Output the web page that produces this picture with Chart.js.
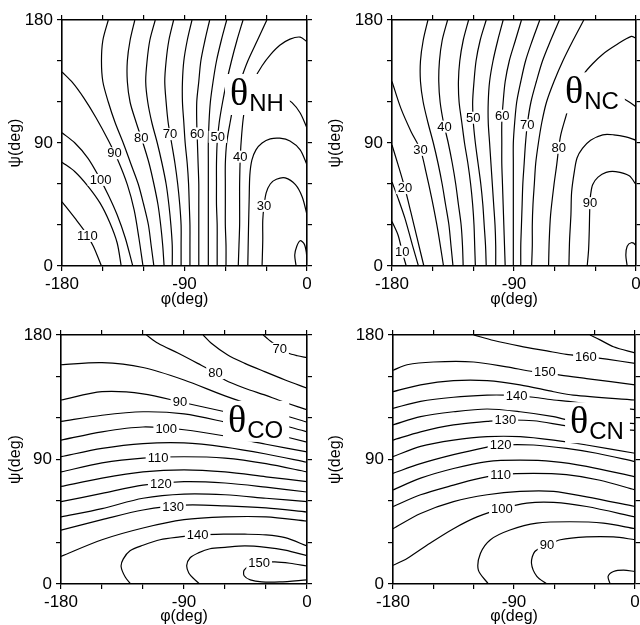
<!DOCTYPE html>
<html>
<head>
<meta charset="utf-8">
<script src="https://cdn.jsdelivr.net/npm/chart.js@4.4.1/dist/chart.umd.min.js"></script>
<style>
  html, body { margin: 0; padding: 0; background: #fff; overflow: hidden; }
  body { width: 640px; height: 625px; position: relative; }
  canvas { position: absolute; }
</style>
</head>
<body>
<canvas id="nh" width="320" height="312" style="left:0;top:0"></canvas>
<canvas id="nc" width="340" height="312" style="left:320px;top:0"></canvas>
<canvas id="co" width="320" height="318" style="left:0;top:312px"></canvas>
<canvas id="cn" width="340" height="318" style="left:320px;top:312px"></canvas>
<script>
// axis ticks (phi across, psi up), only some of them get a number
const phiTicks = [-180, -150, -120, -90, -60, -30, 0];
const psiTicks = [0, 30, 60, 90, 120, 150, 180];
const labelledTicks = [-180, -90, 0, 90, 180];

// sample rows/columns used by the contour tables below
const psiRows = [180, 165, 150, 135, 120, 105, 90, 75, 60, 45, 30, 15, 0];
const phiCols = [-180, -150, -120, -90, -60, -30, 0];

function rows(phis) { return phis.map((p, i) => [p, psiRows[i]]); }
function cols(psis) { return psis.map((s, i) => [phiCols[i], s]); }

// theta(N-H) contours, [phi, psi] points
const nhContours = [
  { level: 110, pts: [[-180,47],[-170.5,35],[-163,25],[-157,14.5],[-151,0]] },
  { level: 105, pts: [[-180,76],[-170.5,69],[-161,58.5],[-152,46],[-145,32],[-139.5,17],[-136.5,0]] },
  { level: 100, pts: [[-180,97.5],[-170.5,90],[-161,79],[-153.5,66.5],[-146,52],[-139.5,37.5],[-133.5,20.5],[-128,0]] },
  { level: 90, pts: [[-180,142],[-172.5,134.5],[-164,123],[-155,108.5],[-146,92],[-139,77.5],[-132,59.5],[-127,41],[-123.5,20.5],[-120.5,0]] },
  { level: 85, pts: rows([-146,-150,-151,-150,-146,-141,-135,-129.5,-124,-120,-116.5,-114.5,-112.5]) },
  { level: 80, pts: rows([-126.5,-130,-132,-132,-130,-125.5,-120.5,-116,-112.5,-109.5,-107.5,-106,-105]) },
  { level: 75, pts: rows([-111.5,-115.5,-117.5,-118.5,-117,-114,-110,-106.5,-103.5,-101.5,-100,-99,-99]) },
  { level: 70, pts: rows([-98,-101.5,-103.5,-104.5,-103.5,-102,-99.5,-97,-95,-93.5,-92.5,-92.5,-92.5]) },
  { level: 65, pts: rows([-84.5,-88,-90.5,-91.5,-91.5,-90.5,-89.5,-88,-87,-86.5,-86,-86,-86]) },
  { level: 60, pts: rows([-71.5,-75,-78,-79.5,-81,-81,-80.5,-80,-79.5,-79.5,-79.5,-79.5,-79.5]) },
  { level: 55, pts: rows([-59,-63,-66.5,-69,-71,-72,-72.5,-72.5,-72.5,-72.5,-72.5,-72.5,-72.5]) },
  { level: 50, pts: rows([-47,-51.5,-55.5,-59,-62,-64.5,-66,-66.5,-66.5,-66.5,-66,-66,-66]) },
  { level: 45, pts: rows([-29.5,-36.5,-43.5,-49,-53.5,-56.5,-59,-60,-60,-60,-60,-59.5,-59.5]) },
  { level: 40, pts: [[0,164],[-5,167.5],[-12.5,166],[-20,161.5],[-26.5,155],[-33,146.5],[-39,136],[-43.5,124.5],[-46.5,110.5],[-48,96],[-49,80],[-49.5,60],[-49.5,44.5],[-49.5,30],[-50,14.5],[-50.5,0]] },
  { level: 35, pts: [[0,101],[-5,112],[-11,119.5],[-17,123.5],[-22.5,126]] },
  { level: 35, pts: [[0,74],[-5,85],[-12.5,91.5],[-20,93.5],[-27,93],[-33,90],[-37.5,85],[-40.5,77.5],[-42,66.5],[-42.5,48.5],[-43,26.5],[-43.5,0]] },
  { level: 30, pts: [[-33,0],[-32.5,19],[-32.5,33.5],[-31.5,44.5],[-30,53.5],[-27,60],[-22.5,63.5],[-16,64.5],[-8.5,59.5],[-3.5,50.5],[0,37.5]] },
  { level: 25, pts: [[-8,0],[-9,8],[-7.5,14.5],[-5,18.5],[-2,16],[-0.5,10],[0,3]] }
];

// theta(N-C) contours
const ncContours = [
  { level: 10, pts: [[-180,32.5],[-175.5,22.5],[-172.5,10.5],[-169.5,0]] },
  { level: 15, pts: [[-180,61.5],[-175.5,49.5],[-170.5,35],[-165,15.5],[-160.5,0]] },
  { level: 20, pts: [[-180,88.5],[-175.5,74],[-170.5,57],[-166,39],[-161.5,20.5],[-156.5,0]] },
  { level: 30, pts: [[-180,135],[-173.5,115.5],[-166,98.5],[-159,85],[-155,69],[-150.5,48.5],[-146,25],[-142,0]] },
  { level: 35, pts: rows([-153.5,-157,-159,-159,-157,-153.5,-149.5,-146,-143,-140.5,-138,-136.5,-135]) },
  { level: 40, pts: rows([-139,-143,-145,-145.5,-144.5,-142,-138.5,-135.5,-133,-131,-129,-128,-127.5]) },
  { level: 45, pts: rows([-123.5,-127.5,-130,-131,-130.5,-128.5,-126.5,-124,-122,-120.5,-119.5,-119,-118.5]) },
  { level: 50, pts: rows([-110.5,-115,-118,-119.5,-120.5,-120,-118.5,-116.5,-114.5,-113,-112,-111,-110.5]) },
  { level: 55, pts: rows([-98,-102,-105.5,-108,-109,-109,-108,-107,-106,-105,-104,-103.5,-103.5]) },
  { level: 60, pts: rows([-84.5,-89,-93.5,-96.5,-98,-99,-99,-99,-98.5,-98,-97.5,-97,-96.5]) },
  { level: 65, pts: rows([-71,-76.5,-81.5,-85,-88,-89.5,-90.5,-90.5,-90.5,-90.5,-90.5,-90.5,-90.5]) },
  { level: 70, pts: rows([-56.5,-63,-69,-73.5,-77.5,-80,-81.5,-82.5,-83.5,-84,-84.5,-85,-85]) },
  { level: 75, pts: rows([-38.5,-46.5,-54,-60.5,-66,-69.5,-72,-74,-75,-76,-76.5,-76.5,-77]) },
  { level: 80, pts: [[0,166.5],[-3.5,168],[-15,161.5],[-24.5,155],[-32,148],[-38.5,140.5],[-43.5,131.5],[-48,121.5],[-52,108.5],[-55.5,96],[-57,86.5],[-58.5,74],[-60.5,59.5],[-63,37.5],[-64,19],[-64.5,0]] },
  { level: 85, pts: [[0,116.5],[-5,120],[-11,123.5],[-16.5,126]] },
  { level: 85, pts: [[0,92],[-7.5,94.5],[-16.5,96],[-24.5,96],[-33.5,92],[-39.5,86],[-43.5,79],[-45.5,69],[-47.5,54],[-48,37.5],[-49,19],[-49.5,0]] },
  { level: 90, pts: [[-36,0],[-35,11.5],[-34.5,25],[-34,46],[-33.5,52],[-32,59.5],[-28,65],[-22,68.5],[-15,69],[-5,66],[0,59.5]] },
  { level: 95, pts: [[-6.5,0],[-7.5,8],[-6.5,14.5],[-3.5,17],[-0.5,15.5],[0,12.5]] }
];

// theta(C-O) contours
const coContours = [
  { level: 70, pts: [[-32,180],[-28.5,177],[-24,173.5],[-20,170],[-14,167],[-7,165],[0,163.5]] },
  { level: 75, pts: [[-76,180],[-70,174],[-58,165.5],[-45.5,159.5],[-31,153.5],[-16,147.5],[0,141.5]] },
  { level: 80, pts: [[-117.5,180],[-109,174],[-94.5,167],[-80,159.5],[-67,152.5],[-60,147.5],[-45.5,141.5],[-30.5,136.5],[-21,133],[-6.5,128],[0,126]] },
  { level: 85, pts: cols([158.5,160,156.5,147.5,136,126,117]) },
  { level: 90, pts: cols([133,139,137.5,131,124.5,118,110]) },
  { level: 95, pts: cols([117.5,122,124.5,123,117,110,102.5]) },
  { level: 100, pts: cols([104,110,113.5,111.5,107,101,95.5]) },
  { level: 105, pts: cols([92,98,101.5,102,99,94,88]) },
  { level: 110, pts: cols([81,87.5,91,92,91,87,81]) },
  { level: 115, pts: cols([70.5,76.5,81,82.5,81,77.5,74]) },
  { level: 120, pts: cols([59.5,65.5,71.5,74,73,70,66.5]) },
  { level: 125, pts: cols([48.5,54.5,62,65,64.5,62,59.5]) },
  { level: 130, pts: cols([39,46.5,53.5,57,56.5,55,52]) },
  { level: 135, pts: cols([20,32,40.5,46.5,48.5,48.5,45.5]) },
  { level: 140, pts: [[0,27.5],[-16,33.5],[-30,35.5],[-45.5,36],[-60,36],[-78,35.5],[-93,34],[-107.5,32],[-120,28],[-129.5,24],[-134.5,18],[-136,12.5],[-133,5],[-129,0]] },
  { level: 145, pts: [[0,20.5],[-16,24.5],[-30,26.5],[-45.5,27.5],[-60,26.5],[-71,25.5],[-79.5,22.5],[-85.5,19],[-88,13.5],[-86.5,8],[-82.5,3.5],[-78.5,0]] },
  { level: 150, pts: [[0,13],[-12.5,15],[-23.5,16],[-34.5,15.5],[-41.5,13.5],[-46,10],[-46,6],[-41.5,3],[-33,1.5],[-20,1.5],[0,3]] }
];

// theta(C-N) contours
const cnContours = [
  { level: 165, pts: [[-33.5,180],[-26,176.5],[-16,171.5],[0,167]] },
  { level: 160, pts: [[-120,180],[-105,176],[-85.5,172],[-65.5,168.5],[-51,166],[-36.5,164.5],[-21,162.5],[0,159.5]] },
  { level: 150, pts: [[-180,154.5],[-169.5,158.5],[-150,160.5],[-120,160.5],[-95.5,157],[-75.5,153.5],[-67,153],[-55.5,151],[-36,148.5],[0,144]] },
  { level: 145, pts: [[-180,139],[-159.5,144],[-135,147],[-110,147],[-85.5,144],[-60.5,139],[-46,136.5],[0,133]] },
  { level: 140, pts: [[-180,127],[-159.5,132],[-135,135],[-110,136.5],[-96.5,136.5],[-75.5,135],[-60.5,133],[-49.5,132],[0,126]] },
  { level: 135, pts: [[-180,115],[-159.5,121],[-135,124.5],[-110,126.5],[-85.5,124.5],[-60.5,121],[-49.5,118.5],[0,116]] },
  { level: 130, pts: [[-180,104],[-159.5,110],[-135,115],[-110,117.5],[-96.5,118.5],[-75.5,118],[-55.5,115],[-49.5,114],[0,111]] },
  { level: 125, pts: [[-180,92],[-159.5,99.5],[-135,104],[-110,106.5],[-85.5,106.5],[-60.5,104],[-36,100.5],[0,94.5]] },
  { level: 120, pts: [[-180,80],[-159.5,87],[-135,93.5],[-110,99],[-100.5,100.5],[-75.5,100.5],[-51,98],[-28.5,94.5],[0,88.5]] },
  { level: 115, pts: [[-180,68],[-159.5,76.5],[-135,83.5],[-110,88.5],[-85.5,89.5],[-60.5,88.5],[-36,85],[0,77.5]] },
  { level: 110, pts: [[-180,56],[-159.5,64.5],[-135,71.5],[-115,76.5],[-100.5,79],[-75.5,80],[-51,79],[-26,75],[0,68]] },
  { level: 105, pts: [[-180,40],[-159.5,51],[-135,59.5],[-110,64.5],[-85.5,67],[-60.5,67],[-36,63],[0,56]] },
  { level: 100, pts: [[-180,13.5],[-169.5,18.5],[-152.5,29.5],[-135,40],[-117.5,48.5],[-99,54.5],[-80.5,58.5],[-60.5,59],[-36,56],[0,48.5]] },
  { level: 95, pts: [[0,40],[-23.5,44],[-48.5,45],[-73,44],[-93,39],[-107.5,32],[-115,22],[-116.5,10],[-109,0]] },
  { level: 90, pts: [[-65.5,0],[-73,5.5],[-77,15],[-74.5,23.5],[-65.5,28],[-55.5,32],[-36,34],[-16,34],[0,32]] },
  { level: 85, pts: [[-18.5,0],[-20,5.5],[-16,9],[-8.5,10],[0,9]] }
];

// where each level number sits: found on its own line at the given phi or psi
const nhLabelSpots = [[110,'psi',22],[100,'psi',63],[90,'psi',82.5],[80,'psi',94],[70,'psi',96.5],[60,'psi',97],[50,'psi',94.5],[40,'psi',80],[30,'psi',44]];
const ncLabelSpots = [[10,'psi',10.5],[20,'psi',57],[30,'psi',85],[40,'psi',102],[50,'psi',108.5],[60,'psi',110],[70,'psi',103],[80,'psi',86.5],[90,'psi',46]];
const coLabelSpots = [[70,'phi',-20],[80,'phi',-67],[90,'phi',-93],[100,'phi',-103],[110,'phi',-109],[120,'phi',-107],[130,'phi',-98],[140,'phi',-80],[150,'phi',-35]];
const cnLabelSpots = [[160,'phi',-36.5],[150,'phi',-67],[140,'phi',-88],[130,'phi',-96.5],[120,'phi',-100],[110,'phi',-100],[100,'phi',-99],[90,'psi',28]];

const SANS = "'Liberation Sans', Arial, Helvetica, sans-serif";
const SERIF = "'Liberation Serif', 'Times New Roman', serif";

// linear walk along a contour to the first crossing of phi (or psi) = val
function pointOn(pts, key, val) {
  const k = key === 'phi' ? 0 : 1;
  for (let i = 0; i < pts.length - 1; i++) {
    const a = pts[i], b = pts[i + 1];
    if (a[k] === b[k]) continue;
    if ((a[k] - val) * (b[k] - val) <= 0) {
      const t = (val - a[k]) / (b[k] - a[k]);
      return [a[0] + t * (b[0] - a[0]), a[1] + t * (b[1] - a[1])];
    }
  }
  return null;
}

function makePanel(id, contours, spots, name, sizes) {
  const fixed = (w) => (scale) => {
    if (scale.isHorizontal()) scale.height = w; else scale.width = w;
  };
  const grid = { drawOnChartArea: false, drawTicks: true, tickLength: 5, color: '#000', lineWidth: 1.2 };
  const border = { display: true, color: '#000', width: 1.6 };
  const tickFont = { family: SANS, size: 17 };
  const showSome = (v) => labelledTicks.includes(v) ? String(v) : '';

  // level numbers and the big theta name, both punched out of the lines
  const textPlugin = {
    id: 'contourText',
    afterDatasetsDraw(chart) {
      const { ctx, scales: { x, y } } = chart;
      ctx.save();
      ctx.font = '13px ' + SANS;
      ctx.textAlign = 'center';
      ctx.textBaseline = 'middle';
      spots.forEach(([level, key, val]) => {
        const c = contours.find(c => c.level === level);
        const p = pointOn(c.pts, key, val);
        if (!p) return;
        const px = x.getPixelForValue(p[0]);
        const py = y.getPixelForValue(p[1]);
        const txt = String(level);
        const w = ctx.measureText(txt).width;
        ctx.fillStyle = '#fff';
        ctx.fillRect(px - w / 2 - 2, py - 6, w + 4, 12);
        ctx.fillStyle = '#000';
        ctx.fillText(txt, px, py + 0.5);
      });

      const tx = x.getPixelForValue(name.phi);
      const ty = y.getPixelForValue(name.psi);
      ctx.textAlign = 'left';
      ctx.textBaseline = 'alphabetic';
      ctx.font = '38px ' + SERIF;
      const tw = ctx.measureText('θ').width;
      ctx.font = '24px ' + SANS;
      const sw = ctx.measureText(name.sub).width;
      ctx.fillStyle = '#fff';
      ctx.fillRect(tx - 5, ty - 31, tw + sw + 12, 41);
      ctx.fillStyle = '#000';
      ctx.font = '38px ' + SERIF;
      ctx.fillText('θ', tx, ty);
      ctx.font = '24px ' + SANS;
      ctx.fillText(name.sub, tx + tw + 1, ty + 6);
      ctx.restore();
    }
  };

  new Chart(document.getElementById(id), {
    type: 'scatter',
    data: {
      datasets: contours.map(c => ({
        label: String(c.level),
        data: c.pts.map(p => ({ x: p[0], y: p[1] })),
        showLine: true,
        borderColor: '#000',
        borderWidth: 1.2,
        pointRadius: 0,
        tension: 0.3,
        fill: false
      }))
    },
    options: {
      responsive: false,
      animation: false,
      events: [],
      layout: { padding: 0 },
      plugins: { legend: { display: false }, tooltip: { enabled: false } },
      scales: {
        x: {
          type: 'linear', position: 'bottom', min: phiTicks[0], max: phiTicks[phiTicks.length - 1],
          ticks: { stepSize: 30, callback: showSome, font: tickFont, color: '#000', padding: 3, maxRotation: 0, autoSkip: false },
          grid, border,
          title: { display: true, text: 'φ(deg)', font: { family: SANS, size: 16 }, color: '#000', padding: { top: 0, bottom: sizes.titlePad } },
          afterFit: fixed(sizes.bottom)
        },
        y: {
          type: 'linear', position: 'left', min: psiTicks[0], max: psiTicks[psiTicks.length - 1],
          ticks: { stepSize: 30, callback: showSome, font: tickFont, color: '#000', padding: 4, autoSkip: false },
          grid, border,
          title: { display: true, text: 'ψ(deg)', font: { family: SANS, size: 16 }, color: '#000', padding: { top: 6, bottom: 0 } },
          afterFit: fixed(sizes.left)
        },
        x2: {
          type: 'linear', position: 'top', min: phiTicks[0], max: phiTicks[phiTicks.length - 1],
          ticks: { stepSize: 30, display: false }, grid, border,
          afterFit: fixed(sizes.top)
        },
        y2: {
          type: 'linear', position: 'right', min: psiTicks[0], max: psiTicks[psiTicks.length - 1],
          ticks: { stepSize: 30, display: false }, grid, border,
          afterFit: fixed(sizes.right)
        }
      }
    },
    plugins: [textPlugin]
  });
}

makePanel('nh', nhContours, nhLabelSpots, { sub: 'NH', phi: -56.6, psi: 117.8 }, { left: 62, right: 13, top: 20, bottom: 46, titlePad: 3 });
makePanel('nc', ncContours, ncLabelSpots, { sub: 'NC', phi: -52.4, psi: 119 }, { left: 72, right: 24, top: 20, bottom: 46, titlePad: 3 });
makePanel('co', coContours, coLabelSpots, { sub: 'CO', phi: -57.8, psi: 110 }, { left: 61, right: 13, top: 23, bottom: 46, titlePad: 4 });
makePanel('cn', cnContours, cnLabelSpots, { sub: 'CN', phi: -48.3, psi: 109 }, { left: 73, right: 25, top: 23, bottom: 46, titlePad: 4 });
</script>
</body>
</html>
